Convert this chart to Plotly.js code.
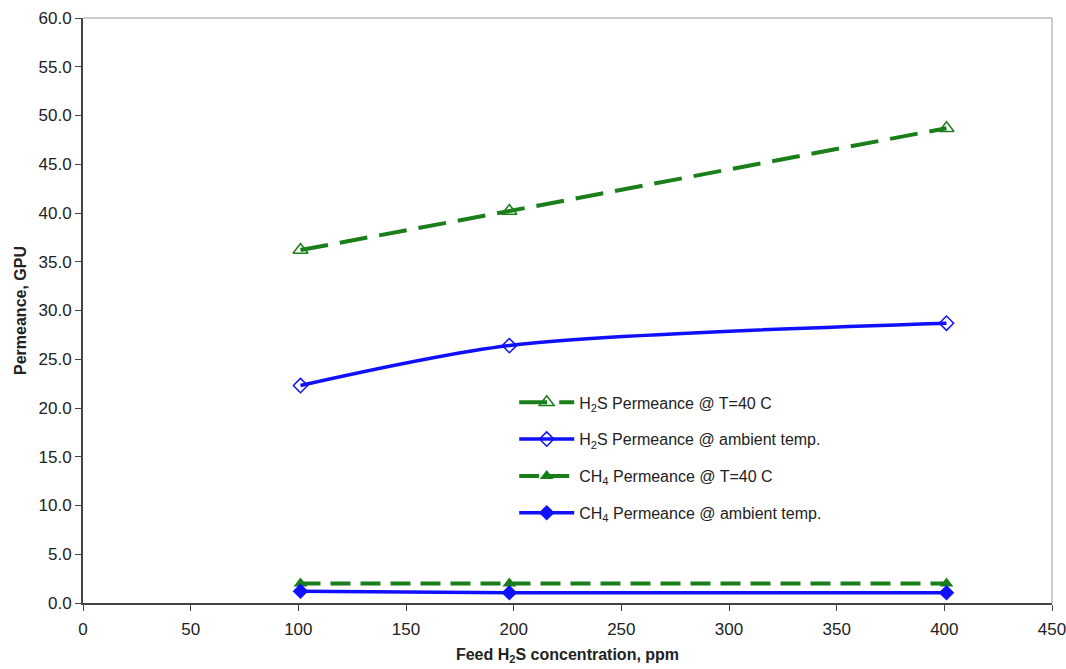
<!DOCTYPE html>
<html>
<head>
<meta charset="utf-8">
<script src="https://cdn.plot.ly/plotly-3.0.1.min.js"></script>
<style>html,body{margin:0;padding:0;background:#fff;}#chart{width:1066px;height:669px;}</style>
</head>
<body>
<div id="chart"></div>
<script>
const feedPpm = [101, 198, 401];
const h2s40C = [36.2, 40.2, 48.7];
const h2sAmbient = [22.3, 26.4, 28.7];
const ch440C = [2.0, 2.0, 2.0];
const ch4Ambient = [1.2, 1.05, 1.05];
const seriesNames = [
  'H<sub>2</sub>S Permeance @ T=40 C',
  'H<sub>2</sub>S Permeance @ ambient temp.',
  'CH<sub>4</sub> Permeance @ T=40 C',
  'CH<sub>4</sub> Permeance @ ambient temp.'
];
const xTicks = [0, 50, 100, 150, 200, 250, 300, 350, 400, 450];
const yTicks = [0, 5, 10, 15, 20, 25, 30, 35, 40, 45, 50, 55, 60];

const green = '#1a7f1a';
const blue = '#1010ff';

const traces = [
  {x: feedPpm, y: h2s40C, name: seriesNames[0], legendgroup: 'a', mode: 'lines+markers',
   line: {color: green, width: 4, dash: '28px,12px'},
   marker: {symbol: 'triangle-up-open', size: 13, color: green, line: {width: 1.5, color: green}}},
  {x: feedPpm, y: h2sAmbient, name: seriesNames[1], legendgroup: 'b', mode: 'lines+markers',
   line: {color: blue, width: 3.5, shape: 'spline', smoothing: 0.8},
   marker: {symbol: 'diamond-open', size: 11, color: blue, line: {width: 1.5, color: blue}}},
  {x: feedPpm, y: ch440C, name: seriesNames[2], legendgroup: 'c', mode: 'lines+markers',
   line: {color: green, width: 4, dash: '20px,10px'},
   marker: {symbol: 'triangle-up', size: 12, color: green}},
  {x: feedPpm, y: ch4Ambient, name: seriesNames[3], legendgroup: 'd', mode: 'lines+markers',
   line: {color: blue, width: 3.5},
   marker: {symbol: 'diamond', size: 12, color: blue}}
];

const layout = {
  width: 1066, height: 669,
  margin: {l: 83, r: 14, t: 18, b: 66},
  paper_bgcolor: '#fff', plot_bgcolor: '#fff',
  font: {family: 'Liberation Sans, Arial, sans-serif', size: 16, color: '#222'},
  showlegend: true,
  legend: {x: 0.445, y: 0.372, xanchor: 'left', yanchor: 'top', bgcolor: 'rgba(0,0,0,0)',
    traceorder: 'grouped', tracegroupgap: 13, itemwidth: 55, font: {size: 16, color: '#222'}},
  xaxis: {
    range: [0, 450], tickvals: xTicks, ticktext: xTicks.map(String),
    showgrid: false, zeroline: false, showline: true, linecolor: '#444', linewidth: 2,
    ticks: 'outside', ticklen: 6, tickcolor: '#444', tickwidth: 1, ticklabelstandoff: 4,
    ticklabeloverflow: 'allow',
    tickfont: {size: 17, color: '#222'},
    title: {text: 'Feed H<sub>2</sub>S concentration, ppm', font: {size: 16, color: '#222', weight: 'bold'}, standoff: 10}
  },
  yaxis: {
    range: [0, 60], tickvals: yTicks, ticktext: yTicks.map(v => v.toFixed(1)),
    showgrid: false, zeroline: false, showline: true, linecolor: '#444', linewidth: 2,
    ticks: 'outside', ticklen: 6, tickcolor: '#444', tickwidth: 1,
    tickfont: {size: 17, color: '#222'},
    title: {text: 'Permeance, GPU', font: {size: 16, color: '#222', weight: 'bold'}, standoff: 8}
  },
  shapes: [
    {type: 'line', xref: 'paper', yref: 'paper', x0: 0, x1: 1, y0: 1, y1: 1, line: {color: '#999', width: 1}},
    {type: 'line', xref: 'paper', yref: 'paper', x0: 1, x1: 1, y0: 0, y1: 1, line: {color: '#999', width: 1}}
  ]
};

Plotly.newPlot('chart', traces, layout, {displayModeBar: false, staticPlot: true});
</script>
</body>
</html>
